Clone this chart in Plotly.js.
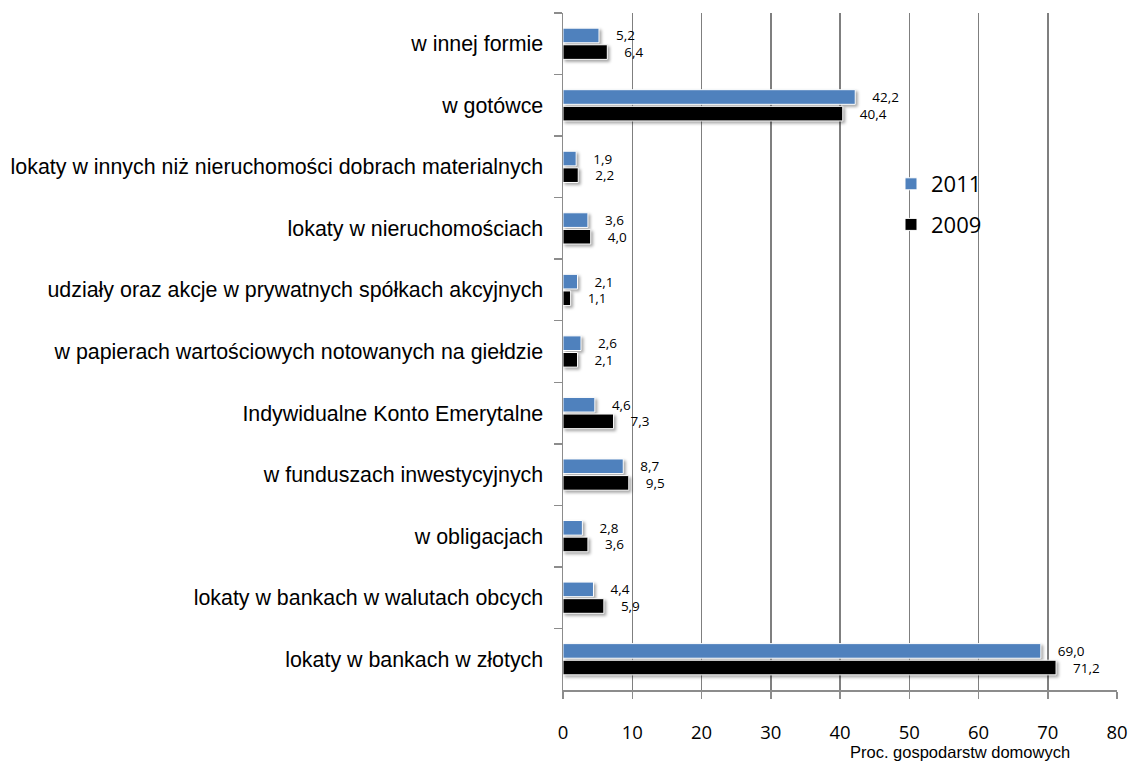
<!DOCTYPE html>
<html>
<head>
<meta charset="utf-8">
<script src="https://cdn.plot.ly/plotly-3.0.1.min.js"></script>
<style>
html,body{margin:0;padding:0;background:#fff;}
#chart .bars .point path{filter:drop-shadow(2px 2px 1.5px rgba(0,0,0,0.35));}
</style>
</head>
<body>
<div id="chart" style="width:1131px;height:762px;"></div>
<script>
const categories = [
  "w innej formie",
  "w gotówce",
  "lokaty w innych niż nieruchomości dobrach materialnych",
  "lokaty w nieruchomościach",
  "udziały oraz akcje w prywatnych spółkach akcyjnych",
  "w papierach wartościowych notowanych na giełdzie",
  "Indywidualne Konto Emerytalne",
  "w funduszach inwestycyjnych",
  "w obligacjach",
  "lokaty w bankach w walutach obcych",
  "lokaty w bankach w złotych"
];
const values2011 = [5.2, 42.2, 1.9, 3.6, 2.1, 2.6, 4.6, 8.7, 2.8, 4.4, 69.0];
const values2009 = [6.4, 40.4, 2.2, 4.0, 1.1, 2.1, 7.3, 9.5, 3.6, 5.9, 71.2];
const xTicks = [0, 10, 20, 30, 40, 50, 60, 70, 80];

const L = 563, R = 1117, T = 13, B = 690;
const W = 1131, H = 762;

function barTrace(name, vals, color) {
  return {
    type: 'bar', orientation: 'h', name: name,
    y: categories, x: vals,
    marker: {color: color, line: {color: '#ffffff', width: 1}},
    text: vals.map(v => v.toFixed(1).replace('.', ',')),
    texttemplate: '    %{text}',
    textposition: 'outside',
    constraintext: 'none',
    textfont: {family: 'Open Sans, sans-serif', size: 13.5, color: '#000'},
    outsidetextfont: {family: 'Open Sans, sans-serif', size: 13.5, color: '#000'},
    cliponaxis: false,
    legendgroup: name,
    hoverinfo: 'x+y'
  };
}

const data = [
  barTrace('2011', values2011, '#4F81BD'),
  barTrace('2009', values2009, '#000000')
];

const layout = {
  width: W, height: H,
  margin: {l: L, r: W - R, t: T, b: H - B, pad: 0},
  paper_bgcolor: '#fff', plot_bgcolor: '#fff',
  barmode: 'group', bargap: 0.46, bargroupgap: 0.12,
  separators: ', ',
  font: {family: 'Liberation Sans, Arial, sans-serif', color: '#000'},
  showlegend: true,
  legend: {
    x: (891 - L) / (R - L), y: 1 - (163 - T) / (B - T),
    xanchor: 'left', yanchor: 'top',
    font: {family: 'Open Sans, sans-serif', size: 22, color: '#000'},
    bgcolor: 'rgba(0,0,0,0)', traceorder: 'grouped', tracegroupgap: 9,
    itemwidth: 30
  },
  xaxis: {
    range: [0, 80], tickvals: xTicks, ticktext: xTicks.map(String),
    showgrid: true, gridcolor: '#7f7f7f', gridwidth: 1.5,
    zeroline: false, showline: true, linecolor: '#8c8c8c', linewidth: 1.5,
    ticks: 'outside', ticklen: 7, tickcolor: '#8c8c8c', tickwidth: 1.5,
    ticklabelstandoff: 18,
    tickfont: {family: 'Open Sans, sans-serif', size: 18.5, color: '#000'},
    fixedrange: true
  },
  yaxis: {
    type: 'category', categoryorder: 'array', categoryarray: categories,
    range: [categories.length - 0.5, -0.5],
    showgrid: false, zeroline: false, showline: true,
    linecolor: '#8c8c8c', linewidth: 1.5,
    ticks: 'outside', tickson: 'boundaries', ticklen: 8,
    tickcolor: '#8c8c8c', tickwidth: 1.5,
    ticklabelstandoff: 14,
    tickfont: {family: 'Liberation Sans, Arial, sans-serif', size: 21.4, color: '#000'},
    fixedrange: true
  },
  annotations: [{
    text: 'Proc. gospodarstw domowych',
    xref: 'paper', yref: 'paper',
    x: (960 - L) / (R - L), y: -(752.5 - B) / (B - T),
    xanchor: 'center', yanchor: 'middle', showarrow: false,
    font: {family: 'Liberation Sans, Arial, sans-serif', size: 16.5, color: '#000'}
  }]
};

Plotly.newPlot('chart', data, layout, {displayModeBar: false, staticPlot: true});
</script>
</body>
</html>
